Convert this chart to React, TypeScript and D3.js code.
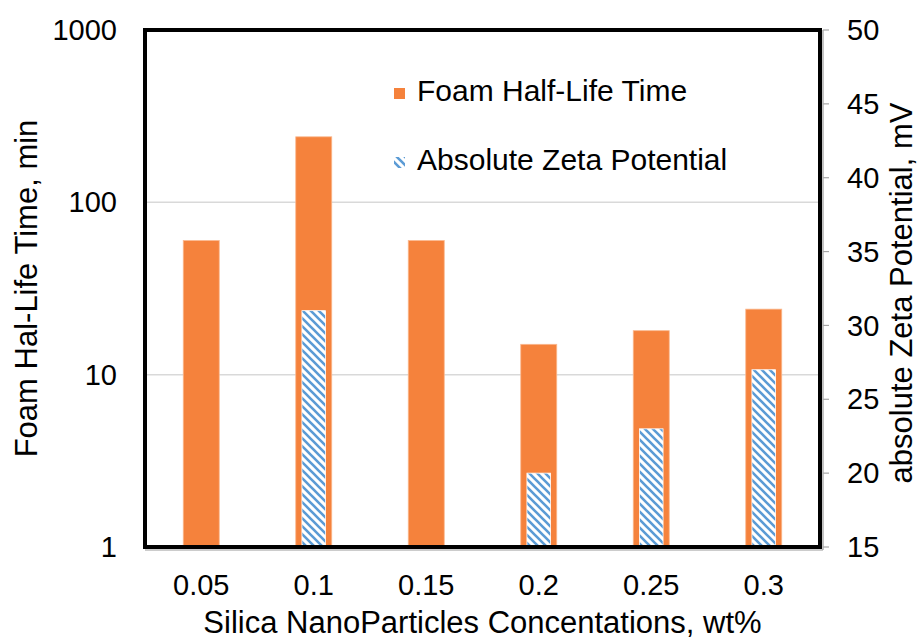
import React from 'react';
import * as d3 from 'd3';

const categories = ['0.05', '0.1', '0.15', '0.2', '0.25', '0.3'];
const halfLife = [60, 240, 60, 15, 18, 24];
const zeta: (number | null)[] = [null, 31, null, 20, 23, 27];
const leftTicks = [1, 10, 100, 1000];
const rightTicks = [15, 20, 25, 30, 35, 40, 45, 50];

const W = 920;
const H = 641;
const margin = { top: 30, right: 100, bottom: 94, left: 145 };
const FONT = '"Liberation Sans", Arial, sans-serif';

export default function App() {
  const x0 = margin.left;
  const x1 = W - margin.right;
  const y0 = H - margin.bottom;
  const y1 = margin.top;

  const x = d3.scaleBand().domain(categories).range([x0, x1]);
  const yLog = d3.scaleLog().domain([1, 1000]).range([y0, y1]);
  const yLin = d3.scaleLinear().domain([15, 50]).range([y0, y1]);

  const orangeW = x.bandwidth() * 0.32;
  const blueW = x.bandwidth() * 0.21;
  const cx = (c: string) => x(c)! + x.bandwidth() / 2;

  return (
    <svg width={W} height={H} style={{ position: 'absolute', left: 0, top: 0, background: '#fff' }}>
      <defs>
        <pattern id="hatch" patternUnits="userSpaceOnUse" width={8} height={8}>
          <rect width={8} height={8} fill="#fff" />
          <path d="M0,0 L8,8 M-4,4 L4,12 M4,-4 L12,4" stroke="#5B9BD5" strokeWidth={2.6} />
        </pattern>
      </defs>

      {/* grid lines */}
      {leftTicks.slice(1, -1).map(t => (
        <line key={t} x1={x0} x2={x1} y1={yLog(t)} y2={yLog(t)} stroke="#d9d9d9" strokeWidth={1.5} />
      ))}

      {/* foam half-life bars */}
      {categories.map((c, i) => (
        <rect key={c} x={cx(c) - orangeW / 2} y={yLog(halfLife[i])} width={orangeW}
          height={y0 - yLog(halfLife[i])} fill="#F5823C" stroke="#FAB88E" strokeWidth={0.8} />
      ))}

      {/* zeta potential bars */}
      {categories.map((c, i) => zeta[i] == null ? null : (
        <rect key={c} x={cx(c) - blueW / 2} y={yLin(zeta[i]!)} width={blueW}
          height={y0 - yLin(zeta[i]!)} fill="url(#hatch)" stroke="#fff" strokeWidth={0.8} />
      ))}

      {/* frame */}
      <line x1={x1 + 3} x2={x1 + 3} y1={y1} y2={y0 + 3} stroke="#9a9a9a" strokeWidth={1.2} />
      <line x1={x0} x2={x1 + 3} y1={y0 + 3} y2={y0 + 3} stroke="#9a9a9a" strokeWidth={1.2} />
      <rect x={x0} y={y1} width={x1 - x0} height={y0 - y1} fill="none" stroke="#000" strokeWidth={4} />

      {/* left ticks */}
      {leftTicks.map(t => (
        <text key={t} x={x0 - 28} y={yLog(t)} dy="0.35em" textAnchor="end" fontSize={29} fontFamily={FONT} fill="#000">{t}</text>
      ))}

      {/* right ticks */}
      {rightTicks.map(t => (
        <g key={t}>
          <line x1={x1 + 3} x2={x1 + 9} y1={yLin(t)} y2={yLin(t)} stroke="#a6a6a6" strokeWidth={1.2} />
          <text x={x1 + 27} y={yLin(t)} dy="0.35em" fontSize={29} fontFamily={FONT} fill="#000">{t}</text>
        </g>
      ))}

      {/* x ticks */}
      {categories.map(c => (
        <text key={c} x={cx(c)} y={595} textAnchor="middle" fontSize={29} fontFamily={FONT} fill="#000">{c}</text>
      ))}

      {/* axis titles */}
      <text x={(x0 + x1) / 2} y={633} textAnchor="middle" fontSize={31} fontFamily={FONT} fill="#000">
        Silica NanoParticles Concentations, wt%
      </text>
      <text transform={`translate(37,${(y0 + y1) / 2}) rotate(-90)`} textAnchor="middle" fontSize={31} fontFamily={FONT} fill="#000">
        Foam Hal-Life Time, min
      </text>
      <text transform={`translate(912,293) rotate(-90)`} textAnchor="middle" fontSize={31} fontFamily={FONT} fill="#000">
        absolute Zeta Potential, mV
      </text>

      {/* legend */}
      <rect x={394} y={88} width={11} height={11} fill="#F5823C" />
      <text x={417} y={101} fontSize={30} fontFamily={FONT} fill="#000">Foam Half-Life Time</text>
      <rect x={394} y={157} width={11} height={11} fill="url(#hatch)" />
      <text x={417} y={170} fontSize={30} fontFamily={FONT} fill="#000">Absolute Zeta Potential</text>
    </svg>
  );
}
